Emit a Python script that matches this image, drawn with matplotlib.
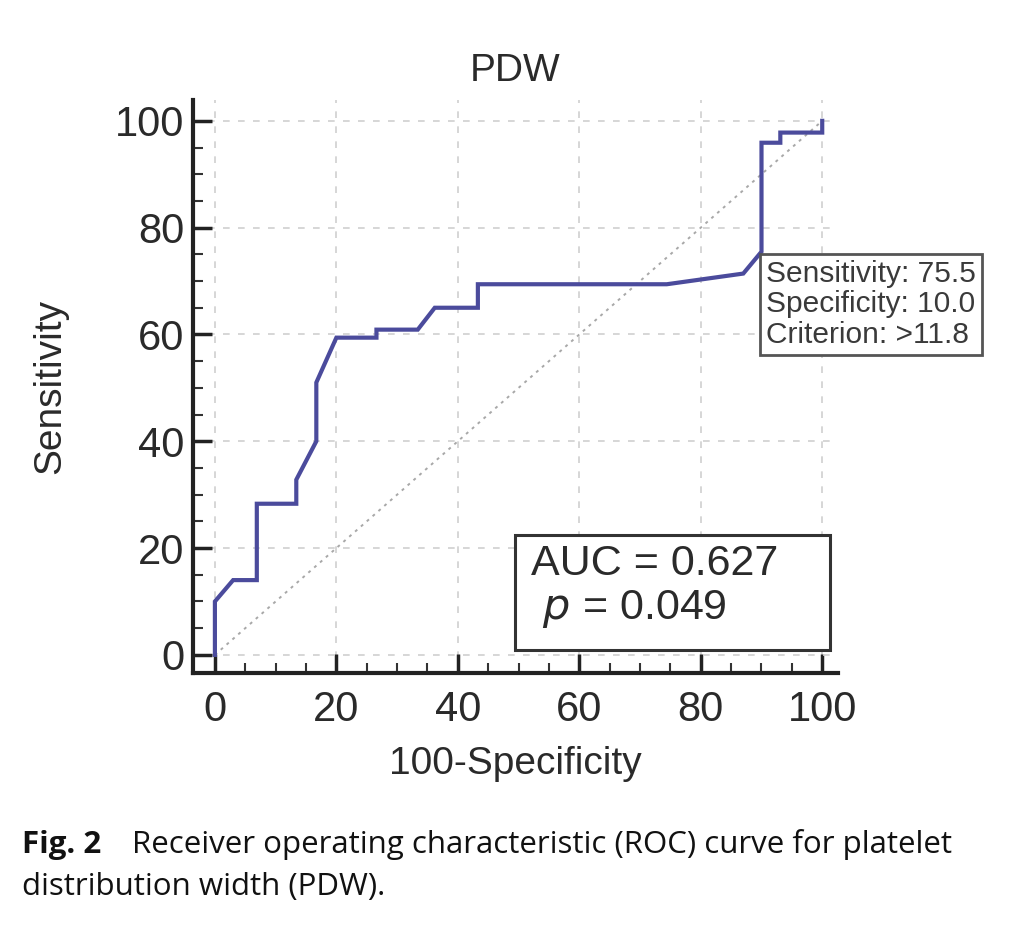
import matplotlib
matplotlib.use("Agg")
import matplotlib.pyplot as plt
from matplotlib.patches import Rectangle
from matplotlib.ticker import MultipleLocator

plt.rcParams['font.family'] = ['Liberation Sans', 'DejaVu Sans']

# ROC 曲线的点 (100-Specificity, Sensitivity)
fpr = [0, 0, 3.0, 6.9, 6.9, 13.4, 13.4, 16.7, 16.7, 20.0, 26.6, 26.6, 33.4, 36.2,
       43.3, 43.3, 74.4, 87.0, 90.0, 90.0, 93.1, 93.1, 100, 100]
tpr = [0, 10, 14, 14, 28.3, 28.3, 32.8, 40, 51, 59.4, 59.4, 60.9, 60.9, 65,
       65, 69.4, 69.4, 71.4, 75.5, 95.9, 95.9, 97.8, 97.8, 100]
diag = [0, 100]
ticks = [0, 20, 40, 60, 80, 100]

cut_fpr, cut_tpr = 90.0, 75.5
cut_text = "Sensitivity: 75.5\nSpecificity: 10.0\nCriterion: >11.8"
auc_text = "AUC = 0.627\n $p$ = 0.049"
caption_bold = "Fig. 2"
caption_rest = "Receiver operating characteristic (ROC) curve for platelet"
caption_line2 = "distribution width (PDW)."

fig = plt.figure(figsize=(10.29, 9.47), dpi=100)
ax = fig.add_axes([0.1876, 0.2893, 0.6268, 0.6051])

ax.plot(diag, diag, color='#a8a8a8', linestyle=(0, (1.5, 2.5)), linewidth=1.4, zorder=2)
ax.plot(fpr, tpr, color='#4b4b9c', linewidth=3, zorder=3, solid_joinstyle='miter')

ax.set_xlim(-3.6, 102.6)
ax.set_ylim(-3.4, 103.9)
ax.set_xticks(ticks)
ax.set_yticks(ticks)
ax.xaxis.set_minor_locator(MultipleLocator(5))
ax.yaxis.set_minor_locator(MultipleLocator(5))
ax.grid(True, which='major', color='#cfcfcf', linestyle=(0, (4, 5)), linewidth=1.2, zorder=1)

for s in ['top', 'right']:
    ax.spines[s].set_visible(False)
for s in ['left', 'bottom']:
    ax.spines[s].set_linewidth(3)
    ax.spines[s].set_color('#222222')

ax.tick_params(which='major', direction='in', length=14, width=2.5, color='#222222',
               labelsize=30, labelcolor='#2a2a2a')
ax.tick_params(axis='x', which='major', pad=12)
ax.tick_params(axis='y', which='major', pad=6)
ax.tick_params(which='minor', direction='in', length=7, width=1.5, color='#333333')

ax.set_title("PDW", fontsize=28, color='#2a2a2a', pad=14)
ax.set_xlabel("100-Specificity", fontsize=28, color='#2a2a2a', labelpad=12)
ax.set_ylabel("Sensitivity", fontsize=28, color='#2a2a2a', labelpad=34)

# 截断点的说明框
ax.text(cut_fpr + 0.7, cut_tpr - 1.6, cut_text, fontsize=21.5, color='#3a3a3a',
        va='top', ha='left', linespacing=1.1, zorder=4,
        bbox=dict(boxstyle='square,pad=0.2', facecolor='white', edgecolor='#555555', linewidth=2))

# AUC 框
ax.add_patch(Rectangle((49.4, 0.9), 51.9, 21.6, facecolor='white', edgecolor='#333333',
                       linewidth=2.2, zorder=4))
ax.text(52.0, 20.8, auc_text, fontsize=31, color='#2a2a2a', va='top', ha='left',
        linespacing=1.15, zorder=5)

fig.text(0.021, 0.0993, caption_bold, fontsize=22.5, fontweight='bold', family='Open Sans', color='#111111')
fig.text(0.128, 0.0993, caption_rest, fontsize=22.5, family='Open Sans', color='#111111')
fig.text(0.021, 0.0549, caption_line2, fontsize=22.5, family='Open Sans', color='#111111')

fig.savefig("out.png", dpi=100, facecolor='white')
